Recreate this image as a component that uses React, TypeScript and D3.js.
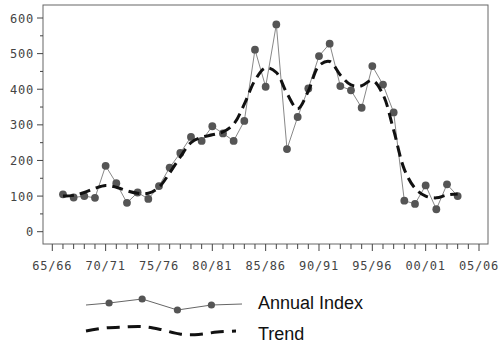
import React from 'react'
import * as d3 from 'd3'

// annual index, one value per season starting 66/67
const years = d3.range(1966, 2004)
const annualIndex = [
  105, 96, 100, 95, 185, 136, 81, 110, 92, 128,
  180, 221, 266, 255, 296, 276, 255, 311, 511, 407,
  582, 232, 322, 402, 493, 528, 409, 397, 348, 465,
  413, 335, 87, 78, 130, 63, 133, 100,
]
const trend = [
  100, 102, 110, 122, 130, 125, 115, 108, 108, 125,
  165, 210, 250, 265, 272, 280, 302, 358, 425, 460,
  447, 388, 345, 395, 466, 478, 440, 412, 410, 425,
  385, 285, 175, 122, 100, 95, 103, 106,
]
const xTickLabels = ['65/66', '70/71', '75/76', '80/81', '85/86', '90/91', '95/96', '00/01', '05/06']
const yTicks = [0, 100, 200, 300, 400, 500, 600]

// legend samples
const legendIndexSample = [0, 2, 6, -5, 0, 1]
const legendTrendSample = [0, 3, 4, 4.5, 1.5, -3, -3.5, -1, 0]

const W = 499
const H = 345
const frame = { left: 43, top: 5, right: 488, bottom: 244 }
const axisFont = '"DejaVu Sans Mono", monospace'
const legendFont = "Arial, 'Liberation Sans', sans-serif"

export default function App() {
  const x = d3.scaleLinear().domain([1965, 2005]).range([52.3, 479])
  const y = d3.scaleLinear().domain([0, 600]).range([231.7, 18])

  const line = d3.line<number>()
    .x((d, i) => x(years[i]))
    .y(d => y(d))
  const trendLine = d3.line<number>()
    .x((d, i) => x(years[i]))
    .y(d => y(d))
    .curve(d3.curveCatmullRom.alpha(0.5))

  const minorY = d3.range(50, 600, 100)
  const yearTicks = d3.range(1965, 2006)

  // legend
  const lx = d3.scaleLinear().domain([0, legendIndexSample.length - 1]).range([86, 242])
  const lxIdx = [0, 0.74, 1.8, 2.93, 4.02, 5].map(v => lx(v))
  const legendPath = d3.line<number>()
    .x((d, i) => lxIdx[i])
    .y(d => 305 - d)
  const ltx = d3.scaleLinear().domain([0, legendTrendSample.length - 1]).range([86, 236])
  const legendTrend = d3.line<number>()
    .x((d, i) => ltx(i))
    .y(d => 331 - d)
    .curve(d3.curveCatmullRom.alpha(0.5))

  return (
    <svg width={W} height={H} style={{ position: 'absolute', left: 0, top: 0, background: '#fff' }}>
      {/* frame */}
      <rect x={frame.left} y={frame.top} width={frame.right - frame.left} height={frame.bottom - frame.top}
        fill="none" stroke="#666" strokeWidth={1} />

      {/* y axis */}
      {yTicks.map(t => (
        <g key={t}>
          <line x1={frame.left - 6} x2={frame.left} y1={y(t)} y2={y(t)} stroke="#444" />
          <text x={frame.left - 9} y={y(t) + 4.5} textAnchor="end" fontFamily={axisFont} fontSize={12}
            letterSpacing={0.8} fill="#444">{t}</text>
        </g>
      ))}
      {minorY.map(t => (
        <line key={t} x1={frame.left - 3} x2={frame.left} y1={y(t)} y2={y(t)} stroke="#444" />
      ))}

      {/* x axis */}
      {yearTicks.map(t => (
        <line key={t} x1={x(t)} x2={x(t)} y1={frame.bottom} y2={frame.bottom + ((t - 1965) % 5 === 0 ? 7 : 5)}
          stroke="#444" />
      ))}
      {xTickLabels.map((l, i) => (
        <text key={l} x={x(1965 + i * 5)} y={270} textAnchor="middle" fontFamily={axisFont} fontSize={12}
          letterSpacing={0.8} fill="#444">{l}</text>
      ))}

      {/* annual index */}
      <path d={line(annualIndex) || ''} fill="none" stroke="#888" strokeWidth={1} />
      {annualIndex.map((v, i) => (
        <circle key={i} cx={x(years[i])} cy={y(v)} r={3.9} fill="#555" />
      ))}

      {/* trend */}
      <path d={trendLine(trend) || ''} fill="none" stroke="#111" strokeWidth={3} strokeDasharray="11,6" />

      {/* legend */}
      <path d={legendPath(legendIndexSample) || ''} fill="none" stroke="#666" strokeWidth={1} />
      {legendIndexSample.slice(1, 5).map((v, i) => (
        <circle key={i} cx={lxIdx[i + 1]} cy={305 - v} r={3.6} fill="#555" />
      ))}
      <text x={258} y={309} fontFamily={legendFont} fontSize={18} fill="#111">Annual Index</text>
      <path d={legendTrend(legendTrendSample) || ''} fill="none" stroke="#111" strokeWidth={3} strokeDasharray="13,8" />
      <text x={258} y={340} fontFamily={legendFont} fontSize={18} fill="#111">Trend</text>
    </svg>
  )
}
